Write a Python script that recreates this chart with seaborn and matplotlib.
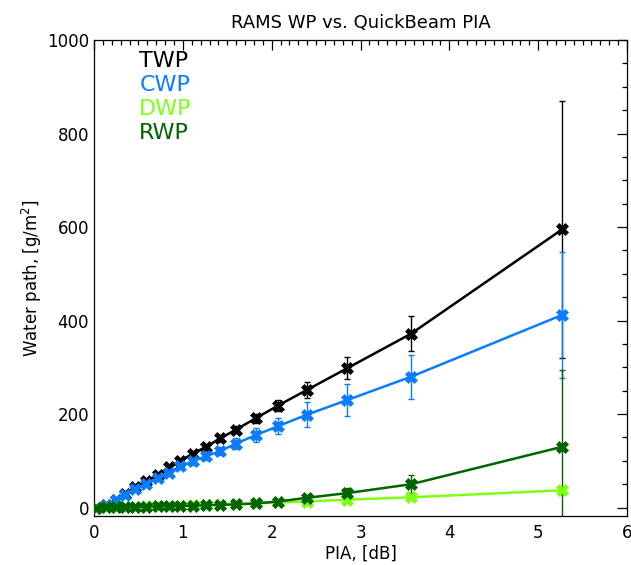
import numpy as np
import pandas as pd
import matplotlib
matplotlib.use("Agg")
import matplotlib.pyplot as plt
import seaborn as sns
from matplotlib.ticker import MultipleLocator

pia = [0.02, 0.14, 0.25, 0.35, 0.46, 0.59, 0.72, 0.84, 0.97, 1.11, 1.26, 1.42,
       1.60, 1.82, 2.07, 2.40, 2.85, 3.57, 5.27]
twp = [0, 6, 17, 30, 43, 56, 70, 86, 100, 115, 130, 148, 167, 191, 218, 252, 298, 372, 595]
cwp = [0, 5, 16, 28, 40, 51, 63, 75, 88, 99, 110, 121, 137, 155, 174, 199, 230, 280, 412]
dwp = [0, 0.5, 1, 1.5, 2, 2.5, 3, 3.5, 4, 5, 5.5, 6, 7, 9, 11, 13, 17, 22, 37]
rwp = [0, 0.3, 0.5, 1, 1.5, 2, 2.5, 3, 3.5, 4, 5, 6, 7, 9, 13, 21, 31, 50, 130]
twp_err = [1, 1, 2, 2, 3, 3, 4, 4, 5, 5, 6, 7, 8, 10, 12, 17, 23, 38, 275]
cwp_err = [1, 1, 2, 2, 3, 3, 4, 5, 6, 7, 8, 9, 11, 15, 17, 26, 35, 47, 135]
dwp_err = [0.5, 0.5, 0.5, 0.5, 0.5, 0.5, 1, 1, 1, 1, 1, 1, 1.5, 2, 2, 3, 4, 5, 10]
rwp_err = [0.5, 0.5, 0.5, 0.5, 1, 1, 1, 1, 1, 1.5, 1.5, 2, 2, 3, 4, 6, 10, 19, 165]

names = ["TWP", "CWP", "DWP", "RWP"]
colors = ["#000000", "#0a7dff", "#7fff14", "#006400"]
vals = [twp, cwp, dwp, rwp]
errs = [twp_err, cwp_err, dwp_err, rwp_err]

sns.set_theme(style="white")
plt.rcParams['font.family'] = ['DejaVu Sans']
plt.rcParams['text.color'] = 'black'
plt.rcParams['axes.labelcolor'] = 'black'
plt.rcParams['xtick.color'] = 'black'
plt.rcParams['ytick.color'] = 'black'

fig = plt.figure(figsize=(6.31, 5.65), dpi=100)
ax = fig.add_axes([0.149, 0.0867, 0.8447, 0.8425])

rows = []
for n, v, e in zip(names, vals, errs):
    for x, y, er in zip(pia, v, e):
        rows.append({"PIA": x, "WP": y, "err": er, "var": n})
df = pd.DataFrame(rows)

for n, c in zip(names, colors):
    sub = df[df["var"] == n]
    ax.errorbar(sub["PIA"], sub["WP"], yerr=sub["err"], fmt="none", ecolor=c,
                elinewidth=1.0, capsize=2.5, capthick=1.0, zorder=2)
    sns.lineplot(data=sub, x="PIA", y="WP", color=c, linewidth=1.8, marker="X",
                 markersize=8, markeredgecolor=c, markeredgewidth=0.5, ax=ax,
                 estimator=None, sort=False, zorder=3)

ax.set_xlim(0, 6)
ax.set_ylim(-18, 1000)
ax.xaxis.set_major_locator(MultipleLocator(1))
ax.xaxis.set_minor_locator(MultipleLocator(0.1))
ax.yaxis.set_major_locator(MultipleLocator(200))
ax.yaxis.set_minor_locator(MultipleLocator(50))
ax.tick_params(which="both", direction="in", top=True, right=True, colors="black",
               labelsize=12, width=0.9)
ax.tick_params(which="major", length=7)
ax.tick_params(which="minor", length=3.5)
ax.tick_params(axis="x", which="major", pad=6)
for s in ax.spines.values():
    s.set_color("black")
    s.set_linewidth(0.9)

ax.set_xlabel("PIA, [dB]", fontsize=12, labelpad=2)
ax.set_ylabel("Water path, [g/m$^2$]", fontsize=12, labelpad=2)
ax.set_title("RAMS WP vs. QuickBeam PIA", fontsize=13, pad=9)

for i, (n, c) in enumerate(zip(names, colors)):
    ax.text(0.085, 0.955 - i * 0.05, n, color=c, fontsize=16, transform=ax.transAxes,
            va="center", ha="left")

fig.savefig("out.png", dpi=100)
